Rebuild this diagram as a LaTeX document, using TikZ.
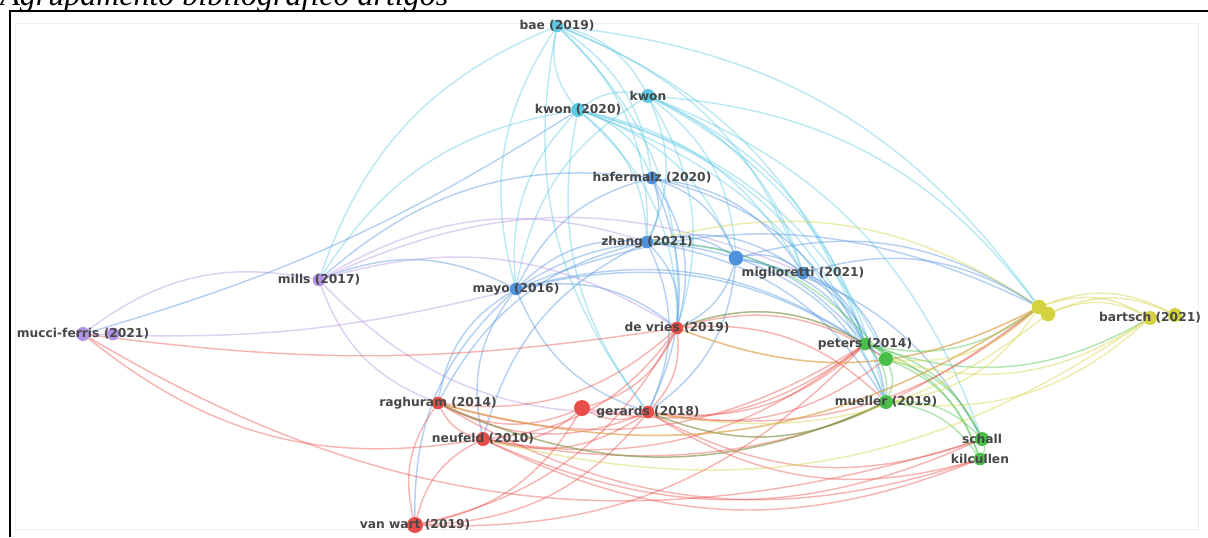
\documentclass[tikz,border=0pt]{standalone}
\usepackage{fontspec}
\setmainfont{Liberation Serif}
\newfontfamily\etfont{DejaVu Sans}
\usetikzlibrary{backgrounds,calc}

\definecolor{ciano}{RGB}{92,200,226}
\definecolor{blu}{RGB}{78,146,222}
\definecolor{viola}{RGB}{178,146,226}
\definecolor{rosso}{RGB}{232,78,72}
\definecolor{verde}{RGB}{74,192,74}
\definecolor{giallo}{RGB}{212,210,62}

% arco curvo da #1 a #2, piegato verso l'esterno del grafo
\newcommand\curva[3]{%
  \draw[arco=#3] let \p1=(#1), \p2=(#2),
    \n1={((\y1-\y2)/100*(\xc-0.5*\x1-0.5*\x2)/100+(\x2-\x1)/100*(\yc-0.5*\y1-0.5*\y2)/100)<0 ? \kb : -\kb}
    in (#1) to[bend left=\n1] (#2);}

\begin{document}
\begin{tikzpicture}[x=0.75pt, y=-0.75pt,
	nodo/.style={circle, fill=#1, draw=none, inner sep=0pt, minimum size=9.5pt},
	etich/.style={font=\etfont\bfseries\fontsize{9.2}{11}\selectfont, text=black!72, inner sep=0pt},
	arco/.style={line width=1.1pt, draw=#1, draw opacity=0.42},
	]
	
	\def\xc{480}    % centro del grafo (pt)
	\def\yc{-247.5}
	\def\kb{24}     % piegatura archi
	
	\useasboundingbox (0,0) rectangle (1208,537);
	\clip (0,0) rectangle (1208,537);
	
	%% ── Titolo e cornice ─────────────────────────────────────────────────────
	\node[font=\itshape\fontsize{24}{24}\selectfont, anchor=base west, inner sep=0pt]
		(titolo) at (0,5) {Agrupamento bibliográfico artigos};
	\draw[black!7, line width=0.5pt] (15,23) rectangle (1198,529);
	\draw[line width=1.5pt] (9.5,537) |- (1208,10.5);
	
	%% ── Nodi ciano ───────────────────────────────────────────────────────────
	\node[nodo=ciano, label={[etich]center:bae (2019)}] (bae) at (557,26) {};
	\node[nodo=ciano, minimum size=10.5pt, label={[etich]center:kwon}] (kwonA) at (648,96) {};
	\node[nodo=ciano, minimum size=10.5pt, label={[etich]center:kwon (2020)}] (kwonB) at (578,110) {};
	
	%% ── Nodi blu ─────────────────────────────────────────────────────────────
	\node[nodo=blu, minimum size=11pt] (bluX) at (736,258) {};
	\node[nodo=blu, label={[etich]center:hafermalz (2020)}] (haf) at (652,178) {};
	\node[nodo=blu, label={[etich]center:zhang (2021)}] (zhang) at (647,242) {};
	\node[nodo=blu, label={[etich]center:miglioretti (2021)}] (migl) at (803,273) {};
	\node[nodo=blu, label={[etich]center:mayo (2016)}] (mayo) at (516,289) {};
	
	%% ── Nodi viola ───────────────────────────────────────────────────────────
	\node[nodo=viola] (mucciX) at (113,334) {};
	\node[nodo=viola, minimum size=10.5pt, label={[etich]center:mucci-ferris (2021)}] (mucci) at (83,334) {};
	\node[nodo=viola, label={[etich]center:mills (2017)}] (mills) at (319,280) {};
	
	%% ── Nodi rossi ───────────────────────────────────────────────────────────
	\node[nodo=rosso, minimum size=12pt] (rossoX) at (582,408) {};
	\node[nodo=rosso, label={[etich]center:de vries (2019)}] (devries) at (677,328) {};
	\node[nodo=rosso, label={[etich]center:raghuram (2014)}] (ragh) at (438,403) {};
	\node[nodo=rosso, label={[etich]center:gerards (2018)}] (gerards) at (648,412) {};
	\node[nodo=rosso, minimum size=10.5pt, label={[etich]center:neufeld (2010)}] (neuf) at (483,439) {};
	\node[nodo=rosso, minimum size=12pt, label={[etich]center:van wart (2019)}] (vanwart) at (415,525) {};
	
	%% ── Nodi verdi ───────────────────────────────────────────────────────────
	\node[nodo=verde, minimum size=10.5pt] (verdeX) at (886,359) {};
	\node[nodo=verde, label={[etich]center:peters (2014)}] (peters) at (865,344) {};
	\node[nodo=verde, minimum size=10.5pt, label={[etich]center:mueller (2019)}] (mueller) at (886,402) {};
	\node[nodo=verde, minimum size=10.5pt, label={[etich]center:schall}] (schall) at (982,439) {};
	\node[nodo=verde, label={[etich]center:kilcullen}] (kilc) at (980,459) {};
	
	%% ── Nodi gialli ──────────────────────────────────────────────────────────
	\node[nodo=giallo, minimum size=11pt] (gialloA) at (1039,307) {};
	\node[nodo=giallo, minimum size=11pt] (gialloB) at (1048,314) {};
	\node[nodo=giallo, minimum size=10.5pt] (bartschX) at (1175,315) {};
	\node[nodo=giallo, minimum size=10.5pt, label={[etich]center:bartsch (2021)}] (bartsch) at (1150,318) {};
	
	%% ── Archi ────────────────────────────────────────────────────────────────
	\begin{scope}[on background layer]
	\foreach \a/\b in {bae/kwonB, bae/kwonA, bae/mills, bae/mayo, bae/zhang,
		bae/devries, bae/migl, bae/peters, bae/gialloA, bae/haf, bae/gerards,
		kwonB/kwonA, kwonB/mills, kwonB/haf, kwonB/zhang,
		kwonB/bluX, kwonB/migl, kwonB/mayo, kwonB/devries, kwonB/gerards,
		kwonB/peters, kwonB/mueller, kwonB/verdeX, kwonA/bluX, kwonA/zhang,
		kwonA/peters, kwonA/mueller, kwonA/schall, kwonA/gialloA, kwonA/migl,
		kwonA/mayo, kwonA/devries}
	\curva{\a}{\b}{ciano};
	\foreach \a/\b in {haf/zhang, haf/bluX, haf/migl, haf/mayo, haf/devries,
		haf/peters, haf/gerards, haf/mills, zhang/bluX, zhang/migl, zhang/mayo,
		zhang/devries, zhang/gerards, zhang/ragh, zhang/peters, zhang/mueller,
		zhang/neuf, bluX/migl, bluX/peters, bluX/mueller, bluX/mayo,
		bluX/devries, bluX/gerards, bluX/gialloA, bluX/schall, migl/peters,
		migl/mueller, migl/verdeX, migl/gialloA, mayo/mills,
		mayo/devries, mayo/gerards, mayo/ragh, mayo/neuf, mayo/vanwart,
		mayo/peters, mayo/verdeX, mayo/gialloA}
	\curva{\a}{\b}{blu};
	\foreach \a/\b in {mucci/mills, mills/ragh, mills/gerards, mills/devries,
		mills/zhang, mills/migl}
	\curva{\a}{\b}{viola};
	% archi lunghi quasi diritti da mucci-ferris
	\begingroup
	\def\kb{-8}
	\curva{mucci}{mayo}{viola};
	\curva{mucci}{devries}{rosso};
	\curva{mucci}{kwonB}{blu};
	\endgroup
	\foreach \a/\b in {neuf/mucci, schall/mucci, devries/ragh,
		devries/gerards, devries/neuf, devries/vanwart, devries/rossoX,
		devries/peters, devries/mueller, devries/gialloA, devries/verdeX,
		ragh/vanwart, ragh/neuf, ragh/gerards, ragh/rossoX, ragh/peters,
		ragh/mueller, ragh/kilc, ragh/gialloA, rossoX/gerards, rossoX/neuf,
		rossoX/vanwart, rossoX/peters, gerards/neuf, gerards/vanwart,
		gerards/peters, gerards/mueller, gerards/verdeX, gerards/gialloA,
		gerards/schall, gerards/kilc, neuf/vanwart, neuf/peters, neuf/gialloA,
		neuf/kilc, neuf/schall, vanwart/peters}
	\curva{\a}{\b}{rosso};
	\foreach \a/\b in {peters/verdeX, peters/mueller, peters/schall, peters/kilc,
		peters/gialloA, peters/bartsch, peters/devries, verdeX/mueller,
		verdeX/schall, verdeX/kilc, verdeX/zhang, mueller/schall, mueller/kilc,
		mueller/gerards, mueller/ragh, schall/kilc}
	\curva{\a}{\b}{verde};
	\foreach \a/\b in {gialloA/gialloB, gialloA/bartsch, gialloA/bartschX,
		gialloA/verdeX, gialloA/mueller, gialloA/zhang, gialloA/devries,
		gialloA/ragh, gialloB/bartsch, gialloB/gerards, bartsch/bartschX,
		bartsch/mueller, bartsch/verdeX, bartsch/neuf, bartschX/gialloB}
	\curva{\a}{\b}{giallo};
	\end{scope}
	
\end{tikzpicture}
\end{document}
